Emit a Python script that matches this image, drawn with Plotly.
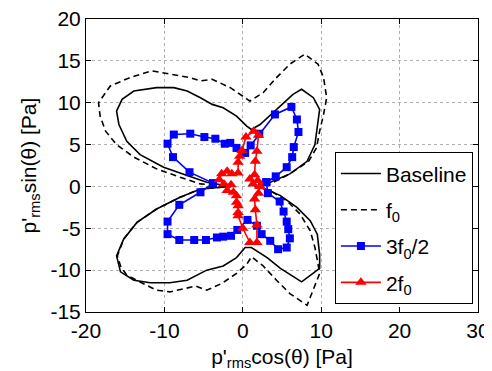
import plotly.graph_objects as go

# ---- data ----
baseline_x = [1.5, 3.3, 6.0, 8.2, 9.2, 9.6, 9.8, 9.0, 7.5, 6.4, 3.9, 2.2, 1.1, 0.5, -0.8, -2.5, -3.9, -5.4, -7.1, -8.8,
              -11.0, -13.9, -15.4, -16.1, -15.8, -14.8, -13.1, -10.1, -7.1, -4.6, -1.5, -5.4, -8.0, -11.0, -13.5, -15.2,
              -16.1, -15.6, -13.9, -11.8, -9.3, -7.1, -4.6, -2.5, -0.8, 0.3, 1.1, 3.1, 4.8, 7.5, 9.8, 9.8, 9.5, 8.6,
              6.9, 4.8, 2.6, 1.5]
baseline_y = [0.0, 0.4, 1.5, 3.0, 5.0, 7.6, 9.2, 10.6, 11.6, 11.0, 8.8, 7.4, 6.8, 7.2, 8.4, 9.4, 9.8, 10.6, 11.4, 11.8,
              11.8, 11.4, 10.4, 9.0, 7.4, 5.4, 3.8, 2.3, 1.3, 0.5, 0.0, -0.3, -1.3, -2.7, -4.3, -6.3,
              -8.3, -10.2, -11.2, -11.5, -11.5, -11.2, -10.0, -9.5, -8.5, -7.3, -7.3, -8.5, -9.8, -11.4, -9.8, -8.1, -5.7, -4.1,
              -2.5, -1.1, -0.2, 0.0]

f0_x = [1.5, 3.5, 6.0, 8.4, 9.4, 9.8, 10.3, 10.7, 10.3, 9.6, 7.9, 6.0, 4.3, 2.6, 0.9, -1.6, -3.9, -5.4, -6.7, -10.1,
        -11.6, -14.4, -16.9, -18.4, -18.2, -17.5, -16.1, -13.9, -11.0, -8.0, -5.4, -1.5, -5.4, -8.0, -11.0, -13.5,
        -15.2, -16.0, -15.6, -14.8, -12.7, -11.0, -9.3, -7.6, -6.0, -4.6, -2.7, -0.8, 0.5, 1.1, 2.6, 4.3, 6.0, 8.2,
        9.8, 9.6, 9.2, 8.6, 7.3, 5.6, 3.5, 1.5]
f0_y = [0.0, 0.3, 1.5, 3.0, 4.6, 6.6, 8.6, 10.6, 13.0, 14.6, 15.8, 14.6, 13.0, 11.2, 10.2, 11.8, 12.8, 12.6, 13.0, 13.5,
        13.8, 13.0, 12.0, 10.0, 8.4, 6.6, 5.0, 3.5, 2.1, 1.1, 0.3, 0.0, -0.3, -1.3, -2.7, -4.3,
        -6.3, -8.3, -9.5, -10.6, -11.6, -12.4, -12.6, -12.2, -11.9, -12.4, -11.6, -10.4, -9.3, -8.4, -9.5, -11.2, -12.8, -14.2,
        -10.4, -9.3, -7.3, -5.3, -3.3, -1.7, -0.5, 0.0]

f32_x = [3.0, 4.2, 5.6, 6.3, 6.5, 7.1, 6.9, 6.2, 4.1, 2.1, 1.0, 0.3, -0.8, -1.6, -2.3, -3.5, -4.9, -6.7, -8.8, -9.6,
         -8.9, -6.8, -3.8, -5.4, -8.1, -9.6, -9.6, -8.1, -6.2, -4.7, -3.3, -2.5, -1.5, -0.7, 0.6, 1.8, 2.4, 3.5,
         4.5, 5.6, 6.0, 5.8, 5.6, 5.2, 4.7, 3.2, 3.0]
f32_y = [0.5, 1.2, 2.3, 3.5, 4.7, 6.5, 8.0, 9.5, 8.6, 6.3, 4.9, 4.0, 4.6, 5.2, 5.1, 5.7, 5.9, 6.3, 6.2, 5.1,
         3.5, 1.7, 0.4, -0.7, -2.2, -4.2, -5.7, -6.4, -6.4, -6.4, -6.1, -6.0, -5.9, -5.2, -4.0, -4.7, -5.7, -6.5,
         -7.5, -7.3, -6.2, -5.1, -4.2, -3.0, -1.8, -0.8, 0.5]

f2_x = [2.2, 1.9, 1.3, 0.9, 1.5, 1.6, 1.8, 2.0, 1.4, 0.4, -0.1, -0.4, -0.6, -0.6, -1.4, -2.0, -2.7, -3.0, -2.4, -1.5,
        -2.0, -1.2, -0.8, -0.8, -0.6, -0.6, -0.6, 0.0, 0.9, 1.8, 1.8, 1.6, 1.5, 2.0, 2.2]
f2_y = [0.0, 0.7, 0.3, 0.9, 1.4, 3.0, 4.2, 6.1, 6.6, 5.9, 4.3, 3.6, 2.9, 1.6, 1.5, 1.8, 1.5, 0.8, 0.3, 0.2,
        -0.5, -0.7, -1.1, -1.9, -2.3, -3.1, -3.5, -5.0, -6.7, -6.7, -4.6, -2.8, -1.5, -0.8, 0.0]

x_ticks = [-20, -10, 0, 10, 20, 30]
y_ticks = [-15, -10, -5, 0, 5, 10, 15, 20]

FONT = "Liberation Sans"
FS = 21

fig = go.Figure()
fig.add_trace(go.Scatter(x=baseline_x, y=baseline_y, mode="lines", name="Baseline",
                         line=dict(color="black", width=1.6), legendgroup="a"))
fig.add_trace(go.Scatter(x=f0_x, y=f0_y, mode="lines", name="f<sub>0</sub>",
                         line=dict(color="black", width=1.6, dash="6px,4px"), legendgroup="b"))
fig.add_trace(go.Scatter(x=f32_x, y=f32_y, mode="lines+markers", name="3f<sub>0</sub>/2",
                         line=dict(color="#0000ff", width=1.6),
                         marker=dict(symbol="square", size=8, color="#0000ff"), legendgroup="c"))
fig.add_trace(go.Scatter(x=f2_x, y=f2_y, mode="lines+markers", name="2f<sub>0</sub>",
                         line=dict(color="#ff0000", width=1.6),
                         marker=dict(symbol="triangle-up", size=10, color="#ff0000"), legendgroup="d"))

axis_common = dict(
    showline=True, linecolor="black", linewidth=1, mirror="ticks",
    ticks="inside", ticklen=5, tickcolor="black",
    showgrid=True, gridcolor="#b0b0b0", griddash="dot", gridwidth=1,
    zeroline=False, tickfont=dict(family=FONT, size=FS, color="black"),
    automargin=False, ticklabeloverflow="allow",
)

# page body adds an 8px offset, so the figure is sized 8px smaller
fig.update_layout(
    width=484, height=363,
    paper_bgcolor="white", plot_bgcolor="white",
    margin=dict(l=78, r=14, t=11, b=59),
    font=dict(family=FONT, size=FS, color="black"),
    xaxis=dict(range=[-20, 30], tickvals=x_ticks, ticktext=[str(v) for v in x_ticks],
               title=dict(text="p'<sub>rms</sub>cos(θ) [Pa]", font=dict(family=FONT, size=FS)),
               **axis_common),
    yaxis=dict(range=[-15, 20], tickvals=y_ticks, ticktext=[str(v) for v in y_ticks],
               **axis_common),
    annotations=[dict(text="p'<sub>rms</sub>sin(θ) [Pa]", textangle=-90,
                      xref="paper", yref="paper", x=0, y=0.5,
                      xanchor="center", yanchor="middle", xshift=-57, showarrow=False,
                      font=dict(family=FONT, size=FS, color="black"))],
    legend=dict(x=0.635, y=0.545, xanchor="left", yanchor="top",
                bgcolor="white", bordercolor="black", borderwidth=1,
                font=dict(family=FONT, size=FS, color="black"),
                tracegroupgap=6, itemwidth=40),
    showlegend=True,
)

fig.write_html("out.html")
